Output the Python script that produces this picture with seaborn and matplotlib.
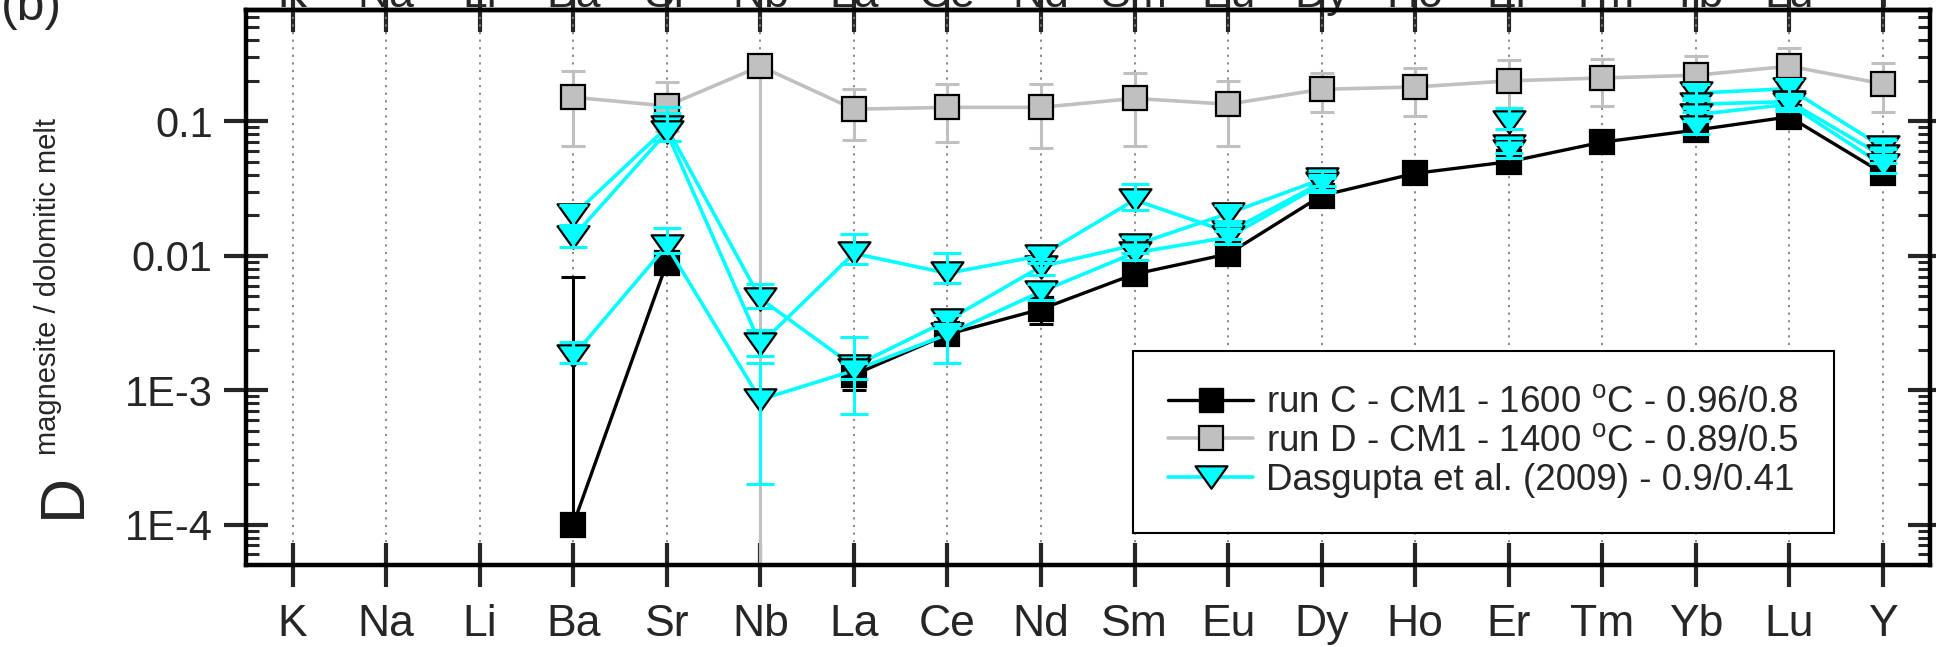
import numpy as np
import pandas as pd
import matplotlib
matplotlib.use("Agg")
import matplotlib.pyplot as plt
import seaborn as sns
from matplotlib import font_manager as fm
from matplotlib.lines import Line2D
from matplotlib.path import Path
from matplotlib.ticker import FixedLocator, FixedFormatter, LogLocator, NullFormatter

nan = np.nan

# ---------------- data ----------------
elements = ["K", "Na", "Li", "Ba", "Sr", "Nb", "La", "Ce", "Nd", "Sm", "Eu",
            "Dy", "Ho", "Er", "Tm", "Yb", "Lu", "Y"]

ytick_values = [1e-4, 1e-3, 1e-2, 1e-1]
ytick_labels = ["1E-4", "1E-3", "0.01", "0.1"]

# run C (black squares)
runC = [nan, nan, nan, 1.0e-4, 0.0088, nan, 0.0013, 0.0026, 0.0040, 0.0073, 0.0103,
        0.028, 0.041, 0.050, 0.070, 0.086, 0.108, 0.041]
runC_lo = [nan, nan, nan, 1.0e-4, 0.0082, nan, 0.0010, 0.0024, 0.0031, 0.0068, 0.0097,
           0.026, 0.039, 0.047, 0.066, 0.081, 0.102, 0.038]
runC_hi = [nan, nan, nan, 0.0070, 0.0094, nan, 0.0016, 0.0028, 0.0046, 0.0078, 0.0109,
           0.030, 0.043, 0.053, 0.074, 0.091, 0.114, 0.044]

# run D (grey squares)
runD = [nan, nan, nan, 0.151, 0.130, 0.257, 0.123, 0.127, 0.127, 0.148, 0.134,
        0.173, 0.180, 0.200, 0.210, 0.220, 0.257, 0.190]
runD_lo = [nan, nan, nan, 0.065, 0.085, 1e-7, 0.072, 0.070, 0.063, 0.065, 0.066,
           0.117, 0.110, 0.125, 0.130, 0.150, 0.180, 0.117]
runD_hi = [nan, nan, nan, 0.236, 0.195, 0.257, 0.173, 0.190, 0.190, 0.228, 0.200,
           0.228, 0.250, 0.285, 0.290, 0.305, 0.350, 0.270]

# Dasgupta et al. (2009) (cyan triangles), several experiments
das1 = [nan, nan, nan, 0.020, 0.090, 0.0048, 0.0015, 0.0033, 0.0083, 0.0120, 0.0206,
        0.037, nan, 0.099, nan, 0.162, 0.175, 0.064]
das1_lo = [nan, nan, nan, 0.017, 0.071, 0.0041, 0.00066, 0.0029, 0.0072, 0.0105, 0.018,
           0.033, nan, 0.088, nan, 0.145, 0.155, 0.056]
das1_hi = [nan, nan, nan, 0.024, 0.127, 0.0062, 0.0025, 0.0036, 0.0095, 0.0137, 0.024,
           0.043, nan, 0.125, nan, 0.190, 0.205, 0.073]

das2 = [nan, nan, nan, 0.0138, 0.083, 0.0022, 0.0104, 0.0074, 0.0100, 0.026, 0.0150,
        0.035, nan, 0.066, nan, 0.134, 0.140, 0.055]
das2_lo = [nan, nan, nan, 0.0117, 0.071, 0.0018, 0.0087, 0.0063, 0.0088, 0.022, 0.0133,
           0.031, nan, 0.058, nan, 0.118, 0.125, 0.049]
das2_hi = [nan, nan, nan, 0.0165, 0.115, 0.0028, 0.0146, 0.0105, 0.0115, 0.034, 0.017,
           0.040, nan, 0.075, nan, 0.150, 0.160, 0.062]

das3 = [nan, nan, nan, 0.0018, 0.0119, 0.00085, 0.0014, 0.0026, 0.0054, 0.0105, 0.0137,
        0.034, nan, 0.060, nan, 0.112, 0.134, 0.047]
das3_lo = [nan, nan, nan, 0.0016, 0.0105, 0.0002, 0.0012, 0.0016, 0.0047, 0.0093, 0.0122,
           0.030, nan, 0.053, nan, 0.100, 0.120, 0.041]
das3_hi = [nan, nan, nan, 0.0023, 0.016, 0.0016, 0.0016, 0.0031, 0.0062, 0.0118, 0.0154,
           0.038, nan, 0.068, nan, 0.125, 0.150, 0.053]

das4 = [nan, nan, nan, nan, nan, nan, nan, nan, nan, nan, nan,
        nan, nan, nan, nan, 0.090, nan, nan]
das4_lo = [nan] * 15 + [0.080, nan, nan]
das4_hi = [nan] * 15 + [0.100, nan, nan]

labels = ["run C - CM1 - 1600 $^{\\mathrm{o}}$C - 0.96/0.8",
          "run D - CM1 - 1400 $^{\\mathrm{o}}$C - 0.89/0.5",
          "Dasgupta et al. (2009) - 0.9/0.41"]

# ---------------- style ----------------
sns.set_style("ticks")
plt.rcParams["font.family"] = ["Liberation Sans", "DejaVu Sans"]
plt.rcParams["mathtext.fontset"] = "custom"
plt.rcParams["mathtext.rm"] = "Liberation Sans"
plt.rcParams["mathtext.it"] = "Liberation Sans:italic"
plt.rcParams["axes.linewidth"] = 3.2

# legend font: a narrow Arial-like face if present, else regular
narrow_file = None
for f in fm.fontManager.ttflist:
    if "LiberationSansNarrow-Regular" in f.fname or f.name == "Liberation Sans Narrow":
        if "Bold" not in f.fname and "Italic" not in f.fname:
            narrow_file = f.fname
            break
if narrow_file:
    leg_prop = fm.FontProperties(fname=narrow_file, size=31.5)
    leg_pad = 0.45
else:
    leg_prop = fm.FontProperties(family="Liberation Sans", size=26.5)
    leg_pad = 0.95

W, H = 1936, 647
fig = plt.figure(figsize=(W / 100, H / 100), dpi=100)
x_left, x_right, y_top, y_bot = 245.8, 1929.7, 10, 565
ax = fig.add_axes([x_left / W, 1 - y_bot / H, (x_right - x_left) / W, (y_bot - y_top) / H])

pos = np.arange(len(elements))

# triangle marker (down-pointing, wide)
tri = Path([(-1, 0.7), (1, 0.7), (0, -0.7), (-1, 0.7)],
           [Path.MOVETO, Path.LINETO, Path.LINETO, Path.CLOSEPOLY])

CYAN = "#00FFFF"
GREY = "#C0C0C0"
SQ = 17
TR = 23


def long_df(vals):
    v = np.asarray(vals, float)
    seg = np.cumsum(np.isnan(v))
    df = pd.DataFrame({"x": pos, "y": v, "seg": seg})
    return df.dropna()


def draw(vals, lo, hi, color, marker, ms, mfc, z, lw, err_z, cap):
    df = long_df(vals)
    sns.lineplot(data=df, x="x", y="y", units="seg", estimator=None, ax=ax,
                 color=color, lw=lw, marker=marker, markersize=ms, markerfacecolor=mfc,
                 markeredgecolor="black", markeredgewidth=1.6, zorder=z, legend=False)
    v = np.asarray(vals, float)
    l = np.asarray(lo, float)
    h = np.asarray(hi, float)
    m = ~np.isnan(v)
    yerr = np.vstack([v[m] - l[m], h[m] - v[m]])
    ax.errorbar(pos[m], v[m], yerr=yerr, fmt="none", ecolor=color, elinewidth=2.2,
                capsize=cap, capthick=2.2, zorder=err_z)


draw(runD, runD_lo, runD_hi, GREY, "s", SQ, GREY, 3, 2.6, 2.5, 8.5)
draw(runC, runC_lo, runC_hi, "black", "s", SQ, "black", 4, 2.4, 3.5, 8.5)
for d, lo, hi in [(das1, das1_lo, das1_hi), (das2, das2_lo, das2_hi),
                  (das3, das3_lo, das3_hi), (das4, das4_lo, das4_hi)]:
    draw(d, lo, hi, CYAN, tri, TR, CYAN, 5, 2.6, 6, 10)

# ---------------- axes ----------------
ax.set_yscale("log")
ax.set_ylim(5e-5, 0.673)
ax.set_xlim(-0.5, len(elements) - 0.5)
ax.set_xlabel("")
ax.set_ylabel("")

ax.xaxis.set_major_locator(FixedLocator(pos))
ax.xaxis.set_major_formatter(FixedFormatter(elements))
ax.yaxis.set_major_locator(FixedLocator(ytick_values))
ax.yaxis.set_major_formatter(FixedFormatter(ytick_labels))
ax.yaxis.set_minor_locator(LogLocator(base=10, subs=np.arange(2, 10), numticks=20))
ax.yaxis.set_minor_formatter(NullFormatter())

ax.tick_params(axis="x", which="major", direction="inout", length=31.7, width=3.0,
               labelsize=32, pad=12, top=False, bottom=True)
ax.tick_params(axis="y", which="major", direction="inout", length=31.7, width=3.0,
               labelsize=30, pad=8, left=True, right=True)
ax.tick_params(axis="y", which="minor", direction="in", length=9, width=2.2,
               left=True, right=True)
ax.tick_params(axis="x", which="minor", bottom=False, top=False)

ax.grid(axis="x", which="major", color="#808080", lw=1.3, ls=(0, (1.2, 3.0)))
ax.grid(axis="y", which="both", visible=False)
ax.set_axisbelow(True)
for s in ax.spines.values():
    s.set_linewidth(3.2)
    s.set_color("black")

secax = ax.secondary_xaxis("top")
secax.set_xticks(pos)
secax.set_xticklabels(elements)
secax.tick_params(axis="x", which="major", direction="inout", length=31.7, width=3.0,
                  labelsize=32, pad=-20)
secax.tick_params(axis="x", which="minor", top=False)
secax.spines["top"].set_linewidth(3.2)

# ---------------- legend ----------------
handles = [
    Line2D([], [], color="black", lw=2.4, marker="s", markersize=SQ,
           markerfacecolor="black", markeredgecolor="black"),
    Line2D([], [], color=GREY, lw=2.6, marker="s", markersize=SQ,
           markerfacecolor=GREY, markeredgecolor="black", markeredgewidth=1.6),
    Line2D([], [], color=CYAN, lw=2.6, marker=tri, markersize=TR,
           markerfacecolor=CYAN, markeredgecolor="black", markeredgewidth=1.6),
]
leg = ax.legend(handles, labels, loc="lower left", bbox_to_anchor=(0.527, 0.058),
                prop=leg_prop, frameon=True, fancybox=False, framealpha=1,
                edgecolor="black", handlelength=2.3, handletextpad=0.35,
                borderpad=leg_pad, labelspacing=0.1, borderaxespad=0)
leg.get_frame().set_linewidth(1.5)

# ---------------- y label & panel label ----------------
fig.text(80 / W, 1 - 518 / H, "D", fontsize=45, rotation=90, rotation_mode="anchor",
         ha="left", va="baseline")
fig.text(56 / W, 1 - 455 / H, "magnesite / dolomitic melt", fontsize=21, rotation=90,
         rotation_mode="anchor", ha="left", va="baseline")
fig.text(1 / W, 1 - 20 / H, "(b)", fontsize=36, ha="left", va="baseline")

fig.savefig("out.png", dpi=100)
